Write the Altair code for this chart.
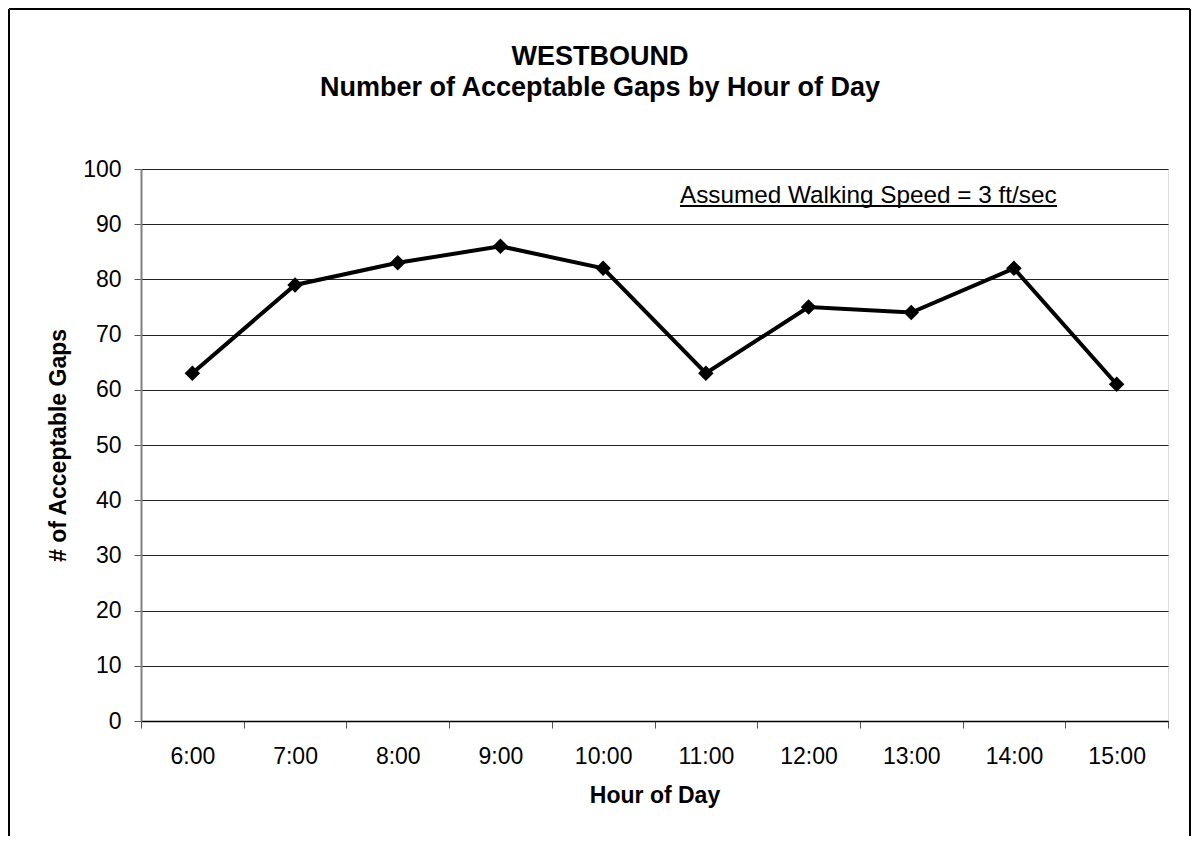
import altair as alt
import pandas as pd

hours = ["6:00", "7:00", "8:00", "9:00", "10:00", "11:00", "12:00", "13:00", "14:00", "15:00"]
gaps = [63, 79, 83, 86, 82, 63, 75, 74, 82, 61]
y_ticks = [0, 10, 20, 30, 40, 50, 60, 70, 80, 90, 100]
title_lines = ["WESTBOUND", "Number of Acceptable Gaps by Hour of Day"]
note_text = "Assumed Walking Speed = 3 ft/sec"

FONT = "Liberation Sans"
W, H = 1027, 552

df = pd.DataFrame({"hour": hours, "gaps": gaps})
one = pd.DataFrame({"k": [0]})

x_enc = alt.X(
    "hour:O",
    sort=hours,
    scale=alt.Scale(type="band", paddingInner=0, paddingOuter=0),
    axis=alt.Axis(
        title="Hour of Day",
        labelAngle=0,
        tickBand="extent",
        tickSize=7,
        tickColor="#555555",
        domainColor="#000000",
        domainWidth=1.5,
        labelFontSize=23,
        labelPadding=17,
        labelColor="#000000",
        labelFont=FONT,
        titleFont=FONT,
        titleFontSize=23,
        titleFontWeight="bold",
        titleColor="#000000",
        titlePadding=16,
        grid=False,
    ),
)
y_enc = alt.Y(
    "gaps:Q",
    scale=alt.Scale(domain=[0, 100], nice=False, zero=True),
    axis=alt.Axis(
        title="# of Acceptable Gaps",
        values=y_ticks,
        tickSize=7,
        tickColor="#555555",
        domainColor="#808080",
        domainWidth=2,
        grid=True,
        gridColor="#222222",
        gridWidth=1,
        labelFontSize=23,
        labelPadding=13,
        labelColor="#000000",
        labelFont=FONT,
        titleFont=FONT,
        titleFontSize=23,
        titleFontWeight="bold",
        titleColor="#000000",
        titlePadding=12,
    ),
)

line = alt.Chart(df).mark_line(color="#000000", strokeWidth=4).encode(x=x_enc, y=y_enc)
pts = alt.Chart(df).mark_point(shape="diamond", filled=True, color="#000000", size=240, opacity=1).encode(
    x=alt.X("hour:O", sort=hours), y="gaps:Q"
)

t1 = alt.Chart(one).mark_text(
    text=title_lines[0], font=FONT, fontSize=27, fontWeight="bold", align="center", baseline="alphabetic", color="#000000"
).encode(x=alt.value(459), y=alt.value(-104))
t2 = alt.Chart(one).mark_text(
    text=title_lines[1], font=FONT, fontSize=27, fontWeight="bold", align="center", baseline="alphabetic", color="#000000"
).encode(x=alt.value(459), y=alt.value(-73))

note = alt.Chart(one).mark_text(
    text=note_text, font=FONT, fontSize=24.3, align="left", baseline="alphabetic", color="#000000"
).encode(x=alt.value(539), y=alt.value(34))
underline = alt.Chart(one).mark_rule(color="#000000", strokeWidth=2).encode(
    x=alt.value(539), x2=alt.value(916), y=alt.value(37)
)

# outer frame (kept inside the drawing surface, which starts at the 8px page margin)
bx0, bx1, by0, by1 = -132, 1049, -160, 720
b_top = alt.Chart(one).mark_rule(color="#000000", strokeWidth=2).encode(
    x=alt.value(bx0), x2=alt.value(bx1), y=alt.value(by0)
)
b_left = alt.Chart(one).mark_rule(color="#000000", strokeWidth=2).encode(
    x=alt.value(bx0), y=alt.value(by0), y2=alt.value(by1)
)
b_right = alt.Chart(one).mark_rule(color="#000000", strokeWidth=2).encode(
    x=alt.value(bx1), y=alt.value(by0), y2=alt.value(by1)
)

chart = (
    alt.layer(b_top, b_left, b_right, line, pts, t1, t2, note, underline)
    .properties(
        width=W,
        height=H,
        autosize=alt.AutoSizeParams(type="none"),
        padding={"left": 133, "top": 161, "right": 24, "bottom": 115},
    )
    .configure_view(stroke=None)
    .configure(background="white")
)

chart.save("out.html", embed_options={"renderer": "svg", "actions": False})
